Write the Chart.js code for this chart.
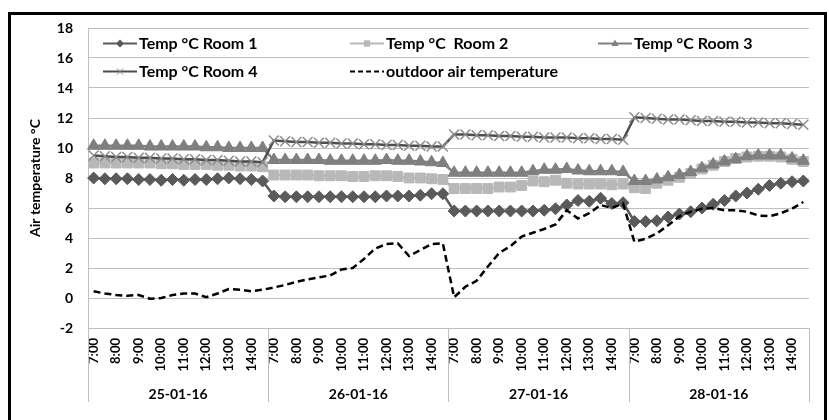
<!DOCTYPE html>
<html>
<head>
<meta charset="utf-8">
<script src="https://cdn.jsdelivr.net/npm/chart.js@4/dist/chart.umd.min.js"></script>
<style>
html,body{margin:0;padding:0;background:#fff;overflow:hidden}
#wrap{position:relative;width:829px;height:420px}
</style>
</head>
<body>
<div id="wrap"><canvas id="c" width="829" height="420"></canvas></div>
<script>
// ---- data ----
const days = ['25-01-16', '26-01-16', '27-01-16', '28-01-16'];
const times = ['7:00','7:30','8:00','8:30','9:00','9:30','10:00','10:30','11:00','11:30','12:00','12:30','13:00','13:30','14:00','14:30'];
const seriesNames = ['Temp °C Room 1', 'Temp °C  Room 2', 'Temp °C Room 3', 'Temp °C Room 4', 'outdoor air temperature'];

const room1 = [
  8.0,7.95,7.95,7.95,7.9,7.9,7.85,7.9,7.85,7.9,7.9,7.95,8.0,7.95,7.9,7.8,
  6.8,6.75,6.75,6.75,6.75,6.75,6.75,6.75,6.75,6.75,6.8,6.8,6.8,6.85,6.95,6.95,
  5.8,5.8,5.8,5.8,5.8,5.8,5.8,5.8,5.85,5.95,6.2,6.5,6.45,6.65,6.3,6.35,
  5.1,5.1,5.15,5.4,5.6,5.75,6.0,6.25,6.5,6.8,7.0,7.25,7.5,7.65,7.75,7.8
];
const room2 = [
  9.0,9.0,9.0,9.0,9.0,9.0,8.95,8.95,8.9,8.9,8.9,8.85,8.85,8.8,8.8,8.75,
  8.2,8.2,8.2,8.2,8.15,8.15,8.15,8.1,8.1,8.15,8.15,8.1,8.0,8.0,7.95,7.9,
  7.3,7.3,7.3,7.3,7.4,7.4,7.5,7.8,7.75,7.85,7.65,7.6,7.6,7.6,7.55,7.6,
  7.35,7.3,7.65,7.85,8.05,8.3,8.6,8.85,9.1,9.3,9.4,9.45,9.45,9.4,9.25,9.1
];
const room3 = [
  10.15,10.15,10.15,10.15,10.15,10.1,10.1,10.1,10.1,10.1,10.05,10.05,10.0,10.0,10.0,10.0,
  9.2,9.2,9.2,9.2,9.2,9.15,9.15,9.15,9.15,9.15,9.2,9.15,9.15,9.1,9.05,9.0,
  8.35,8.35,8.35,8.35,8.35,8.35,8.35,8.45,8.55,8.55,8.6,8.5,8.45,8.45,8.45,8.4,
  7.8,7.8,7.9,8.05,8.2,8.4,8.65,8.9,9.1,9.25,9.45,9.5,9.5,9.5,9.3,9.15
];
const room4 = [
  9.5,9.45,9.4,9.4,9.35,9.35,9.3,9.3,9.25,9.25,9.2,9.2,9.15,9.1,9.1,9.05,
  10.5,10.45,10.4,10.4,10.35,10.35,10.3,10.3,10.25,10.25,10.2,10.2,10.15,10.15,10.1,10.1,
  10.9,10.9,10.85,10.85,10.8,10.8,10.75,10.75,10.7,10.7,10.7,10.65,10.65,10.6,10.6,10.55,
  12.05,12.0,11.95,11.9,11.9,11.85,11.8,11.8,11.75,11.75,11.7,11.7,11.65,11.65,11.6,11.55
];
const outdoor = [
  0.45,0.3,0.2,0.15,0.2,-0.05,0.0,0.2,0.3,0.3,0.05,0.3,0.6,0.55,0.45,0.55,
  0.7,0.87,1.08,1.24,1.38,1.5,1.9,2.0,2.6,3.3,3.6,3.65,2.8,3.2,3.6,3.65,
  0.05,0.75,1.15,2.1,3.0,3.45,4.1,4.35,4.6,4.9,5.85,5.3,5.65,6.2,6.0,6.3,
  3.75,3.95,4.3,4.85,5.45,5.75,5.95,6.0,5.85,5.85,5.75,5.5,5.45,5.65,5.95,6.4
];
const yTitle = 'Air temperature °C';
const yMin = -2, yMax = 18, yStep = 2;

// ---- build ----
const labels = [];
days.forEach(d => times.forEach(t => labels.push(t)));

Chart.defaults.font.family = 'Lato, "Liberation Sans", sans-serif';
Chart.defaults.color = '#000';

function drawMarker(ctx, style, x, y, r, fill, stroke, bw) {
  ctx.save();
  ctx.fillStyle = fill; ctx.strokeStyle = stroke; ctx.lineWidth = bw;
  ctx.beginPath();
  if (style === 'rectRot') {
    ctx.moveTo(x, y - r); ctx.lineTo(x + r, y); ctx.lineTo(x, y + r); ctx.lineTo(x - r, y); ctx.closePath();
    ctx.fill();
  } else if (style === 'rect') {
    const s = r * 0.8;
    ctx.rect(x - s, y - s, 2 * s, 2 * s); ctx.fill();
  } else if (style === 'triangle') {
    ctx.moveTo(x, y - r); ctx.lineTo(x + r * 0.9, y + r * 0.6); ctx.lineTo(x - r * 0.9, y + r * 0.6); ctx.closePath();
    ctx.fill();
  } else if (style === 'crossRot') {
    const s = r * 0.8;
    ctx.moveTo(x - s, y - s); ctx.lineTo(x + s, y + s);
    ctx.moveTo(x + s, y - s); ctx.lineTo(x - s, y + s);
    ctx.stroke();
  }
  ctx.restore();
}

const legendPos = [[103, 43], [350, 43], [598, 43], [103, 71], [350, 71]];

const decoPlugin = {
  id: 'deco',
  afterDraw(chart) {
    const ctx = chart.ctx;
    const ca = chart.chartArea;
    const xs = chart.scales.x, xd = chart.scales.xDay;
    ctx.save();
    // day separators in the category axis area
    ctx.strokeStyle = '#bfbfbf';
    ctx.lineWidth = 1;
    for (let k = 0; k <= days.length; k++) {
      const px = Math.round(xs.getPixelForValue(k * times.length - 0.5)) + 0.5;
      ctx.beginPath();
      ctx.moveTo(px, ca.bottom);
      ctx.lineTo(px, xd.bottom);
      ctx.stroke();
    }
    // legend
    chart.data.datasets.forEach((ds, i) => {
      const [x, y] = legendPos[i];
      ctx.save();
      ctx.strokeStyle = ds.borderColor;
      ctx.lineWidth = 2;
      ctx.setLineDash(ds.borderDash ? [5, 3] : []);
      ctx.beginPath(); ctx.moveTo(x, y + 0.5); ctx.lineTo(x + 34, y + 0.5); ctx.stroke();
      ctx.setLineDash([]);
      if (ds.pointRadius > 0) {
        drawMarker(ctx, ds.pointStyle, x + 17, y + 0.5, 4, ds.pointBackgroundColor, ds.pointBorderColor, 1);
      }
      ctx.fillStyle = '#000';
      ctx.font = 'bold 16px Lato, "Liberation Sans", sans-serif';
      ctx.textBaseline = 'middle';
      ctx.fillText(ds.label, x + 36, y + 1);
      ctx.restore();
    });
    // outer frame
    ctx.strokeStyle = '#000';
    ctx.lineWidth = 3;
    ctx.strokeRect(9.5, 13.5, 816, 420);
    ctx.restore();
  }
};

new Chart(document.getElementById('c'), {
  type: 'line',
  data: {
    labels: labels,
    datasets: [
      { label: seriesNames[0], data: room1, borderColor: '#5a5a5a', backgroundColor: '#5a5a5a',
        pointStyle: 'rectRot', pointRadius: 6, pointBackgroundColor: '#5a5a5a', pointBorderColor: '#5a5a5a',
        pointBorderWidth: 1, borderWidth: 2.5, order: 5 },
      { label: seriesNames[1], data: room2, borderColor: '#b8b8b8', backgroundColor: '#b8b8b8',
        pointStyle: 'rect', pointRadius: 7, pointBackgroundColor: '#b8b8b8', pointBorderColor: '#b8b8b8',
        pointBorderWidth: 1, borderWidth: 2.5, order: 4 },
      { label: seriesNames[2], data: room3, borderColor: '#7f7f7f', backgroundColor: '#7f7f7f',
        pointStyle: 'triangle', pointRadius: 7, pointBackgroundColor: '#7f7f7f', pointBorderColor: '#7f7f7f',
        pointBorderWidth: 1, borderWidth: 2.5, order: 3 },
      { label: seriesNames[3], data: room4, borderColor: '#4d4d4d', backgroundColor: '#ffffff',
        pointStyle: 'crossRot', pointRadius: 7, pointBackgroundColor: '#ffffff', pointBorderColor: '#8c8c8c',
        pointBorderWidth: 1.5, borderWidth: 2.5, order: 2 },
      { label: seriesNames[4], data: outdoor, borderColor: '#000000', backgroundColor: '#000000',
        borderDash: [7, 4], pointRadius: 0, borderWidth: 2.5, order: 1 }
    ]
  },
  options: {
    responsive: false,
    animation: false,
    devicePixelRatio: 1,
    layout: { padding: { left: 0, right: 10, top: 28, bottom: 18 } },
    plugins: { legend: { display: false }, tooltip: { enabled: false } },
    elements: { line: { tension: 0 } },
    scales: {
      y: {
        min: yMin, max: yMax,
        ticks: { stepSize: yStep, padding: 15, font: { size: 14, weight: 'bold' }, color: '#000' },
        grid: { color: '#bfbfbf', lineWidth: 1, drawTicks: false },
        border: { color: '#bfbfbf', width: 1 },
        title: { display: true, text: yTitle, font: { size: 14, weight: 'bold' }, color: '#000', padding: { top: 27, bottom: 0 } },
        afterFit(s) { s.width = 88; }
      },
      x: {
        type: 'category',
        offset: true,
        weight: 0,
        grid: { display: false, drawTicks: false },
        border: { color: '#bfbfbf', width: 1 },
        ticks: {
          autoSkip: false, minRotation: 90, maxRotation: 90, padding: 10,
          font: { size: 13, weight: 'bold' }, color: '#000',
          callback: (v, i) => { const t = times[i % times.length]; return t.endsWith(':00') ? t : ''; }
        },
        afterFit(s) { s.height = 50; }
      },
      xDay: {
        type: 'category',
        labels: days,
        position: 'bottom',
        offset: true,
        weight: 1,
        grid: { display: false, drawTicks: false },
        border: { display: false },
        ticks: { autoSkip: false, maxRotation: 0, padding: 8, font: { size: 14, weight: 'bold' }, color: '#000' },
        afterFit(s) { s.height = 24; }
      }
    }
  },
  plugins: [decoPlugin]
});
</script>
</body>
</html>
